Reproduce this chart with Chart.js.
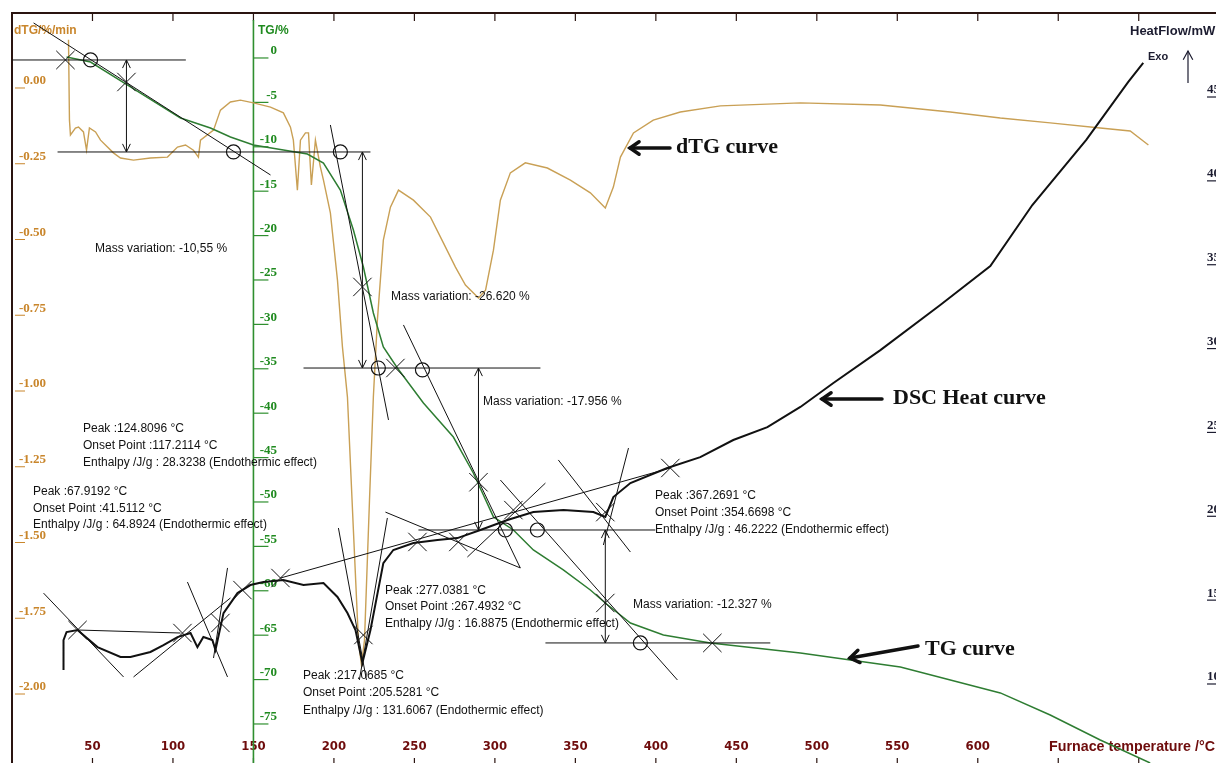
<!DOCTYPE html>
<html><head><meta charset="utf-8">
<style>html,body{margin:0;padding:0;background:#fff;overflow:hidden}canvas{display:block}</style>
<script src="https://cdn.jsdelivr.net/npm/chart.js@4.4.1/dist/chart.umd.min.js"></script>
</head><body>
<canvas id="c" width="1216" height="763"></canvas>
<script>
// ---------- data (temperature °C, value in axis units) ----------
const dtgT = [35.1,35.7,36.3,39.4,41.3,44.4,46.3,48.1,51.9,55.0,63.0,67.4,75.5,86.0,96.6,102.8,107.8,112.7,115.8,117.1,125.2,129.5,135.7,141.9,150.0,160.6,168.6,173.0,174.8,177.3,179.2,182.3,184.2,186.0,188.5,191.6,193.5,197.8,202.2,205.3,208.4,212.1,215.2,217.1,219.0,222.1,224.5,227.0,230.7,235.1,240.1,249.4,260.0,268.0,275.5,281.7,289.8,294.2,299.1,303.4,309.6,318.9,332.6,346.9,359.3,368.6,373.6,378.0,386.1,398.4,415.2,440.1,489.8,539.5,582.9,614.0,645.0,676.1,694.7,706.0];
const dtgV = [0.149,-0.116,-0.165,-0.142,-0.139,-0.155,-0.215,-0.142,-0.155,-0.182,-0.224,-0.241,-0.248,-0.241,-0.238,-0.205,-0.198,-0.215,-0.238,-0.182,-0.149,-0.083,-0.056,-0.050,-0.059,-0.073,-0.092,-0.139,-0.182,-0.347,-0.182,-0.158,-0.158,-0.330,-0.182,-0.271,-0.314,-0.422,-0.644,-0.865,-1.030,-1.469,-1.832,-1.914,-1.832,-1.370,-1.030,-0.776,-0.512,-0.403,-0.347,-0.380,-0.436,-0.521,-0.601,-0.660,-0.703,-0.677,-0.545,-0.380,-0.290,-0.257,-0.274,-0.314,-0.356,-0.406,-0.337,-0.238,-0.158,-0.116,-0.089,-0.069,-0.059,-0.066,-0.089,-0.109,-0.125,-0.142,-0.152,-0.198];

const tgT = [33.9,48.8,73.6,104.7,123.3,135.7,150.0,168.6,183.5,193.5,204.0,212.1,218.3,224.5,230.7,239.4,255.6,274.2,286.6,299.1,311.5,323.9,342.5,359.3,368.6,384.2,404.7,433.9,489.8,551.9,614.0,645.0,676.1,707.1];
const tgV = [-0.11,-0.68,-3.49,-6.98,-8.11,-9.12,-10.02,-10.59,-11.04,-12.05,-15.09,-19.59,-23.76,-28.94,-32.77,-35.14,-39.08,-42.91,-46.96,-51.91,-53.38,-55.63,-57.88,-60.14,-61.60,-63.85,-65.20,-66.10,-67.23,-68.81,-71.73,-74.21,-77.03,-79.62];

const dscT = [32.0,32.0,33.9,40.7,53.1,67.4,73.6,86.0,94.1,102.8,110.9,115.2,118.9,124.5,126.4,131.4,140.1,148.1,156.2,168.6,181.1,193.5,202.2,208.4,213.4,217.7,222.7,230.7,236.9,249.4,264.3,276.7,291.0,307.8,323.9,342.6,361.2,368.6,373.6,384.2,407.1,427.6,448.1,469.3,489.8,510.3,539.5,576.7,607.8,633.9,667.4,693.5,702.8];
const dscV = [10.71,12.50,12.98,13.10,12.08,11.49,11.49,11.79,12.20,12.68,12.92,12.08,12.68,12.50,11.91,14.11,15.30,15.78,15.96,16.08,15.78,15.90,15.07,14.11,13.10,11.13,13.10,17.09,17.87,18.29,18.46,18.58,19.06,19.66,20.13,20.25,20.13,19.84,21.03,21.86,22.76,23.41,24.43,25.20,26.40,27.83,29.79,32.48,34.80,38.44,42.32,45.78,46.91];

// construction lines [T1, v1, T2, v2]
const tgGuides = [[0,-0.45,108,-0.45],[28.3,-10.81,222.7,-10.81],[13.4,3.72,160.6,-13.40],[197.8,-7.77,233.9,-40.99],[181.1,-35.14,328.3,-35.14],[243.2,-30.29,315.8,-57.66],[252.5,-53.38,399.7,-53.38],[331.4,-66.10,471.1,-66.10],[303.4,-47.75,413.4,-70.27]];
const tgArrows = [[71.1,-0.45,-10.81],[217.7,-10.81,-35.14],[289.8,-35.14,-53.38],[368.6,-53.38,-66.10]];
const tgCircles = [[48.8,-0.45],[137.6,-10.81],[204.0,-10.81],[227.6,-35.14],[255.0,-35.36],[306.5,-53.38],[326.4,-53.38],[390.4,-66.10]];
const tgCrosses = [[33.2,-0.45],[71.1,-2.93],[217.7,-26.01],[238.2,-35.14],[289.8,-48.0],[368.6,-61.6],[435.1,-66.10]];
const dscGuides = [[40.7,13.10,104.7,12.92],[19.6,15.30,69.3,10.30],[75.5,10.30,135.7,15.01],[109.0,15.96,133.9,10.30],[133.9,16.80,125.2,11.43],[166.8,16.20,409.0,22.76],[202.8,19.18,220.2,10.12],[233.2,19.78,215.8,10.12],[232.0,20.13,315.8,16.80],[282.9,17.45,331.4,21.86],[339.4,23.24,384.2,17.75],[383.0,23.95,367.4,18.17]];
const dscCrosses = [[40.7,13.10],[105.9,12.92],[129.5,13.52],[143.2,15.48],[166.8,16.20],[218.3,12.80],[251.9,18.35],[277.3,18.35],[311.5,20.25],[368.6,20.13],[409.0,22.76]];

// tick values
const xTickLabels = [50,100,150,200,250,300,350,400,450,500,550,600];
const xTickMarks = [50,100,150,200,250,300,350,400,450,500,550,600,650,700];
const dtgTicks = [0,-0.25,-0.5,-0.75,-1,-1.25,-1.5,-1.75,-2];
const tgTicks = [0,-5,-10,-15,-20,-25,-30,-35,-40,-45,-50,-55,-60,-65,-70,-75];
const hfTicks = [45,40,35,30,25,20,15,10];
const tgAxisAt = 150;

const notes = [
 ['Mass variation: -10,55 %',95,249],
 ['Mass variation: -26.620 %',391,297],
 ['Mass variation: -17.956 %',483,402],
 ['Mass variation: -12.327 %',633,605],
 ['Peak :124.8096 °C',83,429],['Onset Point :117.2114 °C',83,446],['Enthalpy /J/g : 28.3238 (Endothermic effect)',83,463],
 ['Peak :67.9192 °C',33,492],['Onset Point :41.5112 °C',33,509],['Enthalpy /J/g : 64.8924 (Endothermic effect)',33,525],
 ['Peak :277.0381 °C',385,591],['Onset Point :267.4932 °C',385,607],['Enthalpy /J/g : 16.8875 (Endothermic effect)',385,624],
 ['Peak :217.0685 °C',303,676],['Onset Point :205.5281 °C',303,693],['Enthalpy /J/g : 131.6067 (Endothermic effect)',303,711],
 ['Peak :367.2691 °C',655,496],['Onset Point :354.6698 °C',655,513],['Enthalpy /J/g : 46.2222 (Endothermic effect)',655,530]
];

// ---------- build datasets ----------
const pts = (a,b)=>a.map((t,i)=>({x:t,y:b[i]}));
const datasets = [
 {data:pts(dtgT,dtgV),yAxisID:'yD',showLine:true,borderColor:'#c9a055',borderWidth:1.4,pointRadius:0,order:3},
 {data:pts(tgT,tgV),yAxisID:'yT',showLine:true,borderColor:'#2e7d32',borderWidth:1.5,pointRadius:0,order:2},
 {data:pts(dscT,dscV),yAxisID:'yH',showLine:true,borderColor:'#111',borderWidth:2,pointRadius:0,order:1}
];
tgGuides.forEach(g=>datasets.push({data:[{x:g[0],y:g[1]},{x:g[2],y:g[3]}],yAxisID:'yT',showLine:true,borderColor:'#111',borderWidth:1,pointRadius:0,order:0}));
dscGuides.forEach(g=>datasets.push({data:[{x:g[0],y:g[1]},{x:g[2],y:g[3]}],yAxisID:'yH',showLine:true,borderColor:'#111',borderWidth:1,pointRadius:0,order:0}));
datasets.push({data:tgCircles.map(p=>({x:p[0],y:p[1]})),yAxisID:'yT',showLine:false,pointStyle:'circle',pointRadius:7,backgroundColor:'rgba(0,0,0,0)',borderColor:'#111',borderWidth:1.2,order:0});
datasets.push({data:tgCrosses.map(p=>({x:p[0],y:p[1]})),yAxisID:'yT',showLine:false,pointStyle:'crossRot',pointRadius:13,borderColor:'#111',borderWidth:1,order:0});
datasets.push({data:dscCrosses.map(p=>({x:p[0],y:p[1]})),yAxisID:'yH',showLine:false,pointStyle:'crossRot',pointRadius:13,borderColor:'#111',borderWidth:1,order:0});

function chevron(ctx,x,y,ang,len,spread){
  ctx.beginPath();
  ctx.moveTo(x+len*Math.cos(ang+spread),y+len*Math.sin(ang+spread));
  ctx.lineTo(x,y);
  ctx.lineTo(x+len*Math.cos(ang-spread),y+len*Math.sin(ang-spread));
  ctx.stroke();
}
function fitText(c,txt,x,y,w){
  const m=c.measureText(txt).width;
  c.save(); c.translate(x,y); c.scale(w/m,1); c.fillText(txt,0,0); c.restore();
}

const deco = {
 id:'deco',
 beforeDatasetsDraw(chart){
  const c=chart.ctx, a=chart.chartArea, sx=chart.scales.x, yD=chart.scales.yD, yT=chart.scales.yT, yH=chart.scales.yH;
  c.save();
  c.strokeStyle='#2a1410'; c.lineWidth=2;
  c.beginPath(); c.moveTo(a.left,a.bottom); c.lineTo(a.left,a.top); c.lineTo(a.right,a.top); c.stroke();
  c.lineWidth=1.2;
  xTickMarks.forEach(v=>{const x=sx.getPixelForValue(v);
    c.beginPath();c.moveTo(x,a.top);c.lineTo(x,a.top+8);c.stroke();
    c.beginPath();c.moveTo(x,a.bottom-5);c.lineTo(x,a.bottom);c.stroke();});
  c.fillStyle='#6e0c0c'; c.font='bold 13px "DejaVu Sans Condensed","DejaVu Sans"'; c.textAlign='center'; c.textBaseline='middle';
  xTickLabels.forEach(v=>c.fillText(String(v),sx.getPixelForValue(v),747));
  c.textAlign='left';
  c.font='bold 15px "Liberation Sans"';
  fitText(c,'Furnace temperature /°C',1049,747,166);
  c.fillStyle='#c9862c'; c.strokeStyle='#c9862c'; c.lineWidth=1;
  c.font='bold 13px "Liberation Serif"'; c.textAlign='right';
  dtgTicks.forEach(v=>{const y=yD.getPixelForValue(v);
    c.fillText(v.toFixed(2),46,y-4);
    c.beginPath();c.moveTo(15,y+3);c.lineTo(25,y+3);c.stroke();});
  c.textAlign='left'; c.font='bold 12px "Liberation Sans"';
  c.fillText('dTG/%/min',14,31);
  const gx=sx.getPixelForValue(tgAxisAt);
  c.strokeStyle='#2f8f2f'; c.lineWidth=1.6;
  c.beginPath(); c.moveTo(gx,20); c.lineTo(gx,a.bottom); c.stroke();
  c.fillStyle='#1f8a1f'; c.lineWidth=1.2;
  c.font='bold 13px "Liberation Serif"'; c.textAlign='right';
  tgTicks.forEach(v=>{const y=yT.getPixelForValue(v);
    c.fillText(String(v),277,y-5);
    c.beginPath();c.moveTo(gx,y+2);c.lineTo(gx+15,y+2);c.stroke();});
  c.textAlign='left'; c.font='bold 12px "Liberation Sans"';
  c.fillText('TG/%',258,31);
  c.fillStyle='#1c1c30'; c.strokeStyle='#1c1c30';
  c.font='bold 13px "Liberation Serif"'; c.textAlign='left';
  hfTicks.forEach(v=>{const y=yH.getPixelForValue(v);
    c.fillText(String(v),1207,y-5);
    c.beginPath();c.moveTo(1207,y+2);c.lineTo(1216,y+2);c.stroke();});
  c.font='bold 13px "Liberation Sans"';
  c.fillText('HeatFlow/mW',1130,31);
  c.font='bold 11px "Liberation Sans"';
  c.fillText('Exo',1148,57);
  c.lineWidth=1.2;
  c.beginPath(); c.moveTo(1188,83); c.lineTo(1188,51); c.stroke();
  chevron(c,1188,51,Math.PI/2,10,0.5);
  c.restore();
 },
 afterDatasetsDraw(chart){
  const c=chart.ctx, sx=chart.scales.x, yT=chart.scales.yT;
  c.save();
  c.strokeStyle='#111'; c.lineWidth=1;
  tgArrows.forEach(r=>{const x=sx.getPixelForValue(r[0]), y1=yT.getPixelForValue(r[1]), y2=yT.getPixelForValue(r[2]);
    c.beginPath();c.moveTo(x,y1);c.lineTo(x,y2);c.stroke();
    chevron(c,x,y1,Math.PI/2,9,0.45); chevron(c,x,y2,-Math.PI/2,9,0.45);});
  c.fillStyle='#111'; c.font='12px "Liberation Sans"'; c.textAlign='left'; c.textBaseline='middle';
  notes.forEach(n=>c.fillText(n[0],n[1],n[2]));
  c.font='bold 22px "Liberation Serif"';
  c.fillText('dTG curve',676,147);
  c.fillText('DSC Heat curve',893,398);
  c.fillText('TG curve',925,649);
  c.lineWidth=3.5; c.lineCap='round';
  const big=(x1,y1,x2,y2)=>{c.beginPath();c.moveTo(x1,y1);c.lineTo(x2,y2);c.stroke();
    chevron(c,x2,y2,Math.atan2(y1-y2,x1-x2),11,0.6);};
  big(670,148,630,148);
  big(882,399,822,399);
  big(918,646,850,658);
  c.restore();
 }
};

new Chart(document.getElementById('c').getContext('2d'),{
 type:'scatter',
 data:{datasets},
 options:{
  responsive:false, animation:false, devicePixelRatio:1,
  layout:{autoPadding:false,padding:{left:12,top:13,right:0,bottom:0}},
  plugins:{legend:{display:false},tooltip:{enabled:false}},
  elements:{line:{tension:0}},
  scales:{
   x:{type:'linear',display:false,min:0,max:748},
   yD:{type:'linear',display:false,min:-2.2376,max:0.2376},
   yT:{type:'linear',display:false,min:-79.62,max:4.84},
   yH:{type:'linear',display:false,min:5.17,max:49.89}
  }
 },
 plugins:[deco]
});
</script>
</body></html>
